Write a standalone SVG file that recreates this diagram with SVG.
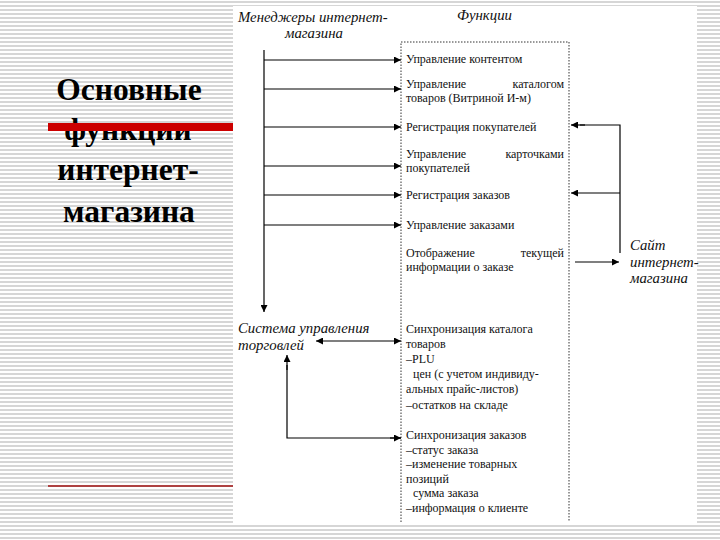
<svg xmlns="http://www.w3.org/2000/svg" width="720" height="540" viewBox="0 0 720 540">
<defs>
<pattern id="stripes" x="0" y="0" width="8" height="4" patternUnits="userSpaceOnUse">
<rect x="0" y="0" width="8" height="4" fill="#ffffff"/>
<rect x="0" y="1" width="8" height="2" fill="#d6d6d6"/>
</pattern>
<marker id="ah" viewBox="0 0 10 10" refX="10" refY="5" markerWidth="10" markerHeight="7" markerUnits="userSpaceOnUse" orient="auto-start-reverse">
<path d="M0,0 L10,5 L0,10 z" fill="#000"/>
</marker>
<style>
.title{font-family:'Liberation Serif','Times New Roman',serif;font-weight:bold;font-size:31.5px;fill:#000;text-anchor:middle}
.hdr{font-family:'Liberation Serif','Times New Roman',serif;font-style:italic;font-size:14.8px;fill:#111}
.it{font-family:'Liberation Serif','Times New Roman',serif;font-size:12px;fill:#111}
.ln{stroke:#000;stroke-width:1.2;fill:none}
.arr{stroke:#000;stroke-width:1.2;fill:none;marker-end:url(#ah)}
.dot{stroke:#333;stroke-width:1;stroke-dasharray:1.5 1.5;fill:none}
</style>
</defs>
<rect x="0" y="0" width="720" height="540" fill="url(#stripes)"/>
<rect x="233" y="6" width="464" height="518" fill="#ffffff"/>

<g id="title">
<text class="title" x="129" y="100">Основные</text>
<text class="title" x="128" y="140">функции</text>
<text class="title" x="128" y="180">интернет-</text>
<text class="title" x="129" y="222">магазина</text>
<rect x="48" y="123" width="185" height="8" fill="#cc0000"/>
<line x1="48" y1="486" x2="233" y2="486" stroke="#a01010" stroke-width="1.5"/>
</g>

<g id="managers">
<text class="hdr" x="238" y="22">Менеджеры интернет-</text>
<text class="hdr" x="285" y="38">магазина</text>
</g>

<g id="functions">
<text class="hdr" x="457" y="20">Функции</text>
<path class="dot" d="M401,522 V42 H569 V522"/>
<text class="it" x="406" y="63">Управление контентом</text>
<text class="it" x="406" y="88">Управление</text>
<text class="it" x="564" y="88" text-anchor="end">каталогом</text>
<text class="it" x="406" y="102">товаров (Витриной И-м)</text>
<text class="it" x="406" y="131">Регистрация покупателей</text>
<text class="it" x="406" y="158">Управление</text>
<text class="it" x="564" y="158" text-anchor="end">карточками</text>
<text class="it" x="406" y="172">покупателей</text>
<text class="it" x="406" y="199">Регистрация заказов</text>
<text class="it" x="406" y="229">Управление заказами</text>
<text class="it" x="406" y="257">Отображение</text>
<text class="it" x="564" y="257" text-anchor="end">текущей</text>
<text class="it" x="406" y="271">информации о заказе</text>
<text class="it" x="406" y="333">Синхронизация каталога</text>
<text class="it" x="406" y="348">товаров</text>
<text class="it" x="406" y="363">–PLU</text>
<text class="it" x="413" y="378">цен (с учетом индивиду-</text>
<text class="it" x="406" y="393">альных прайс-листов)</text>
<text class="it" x="406" y="409">–остатков на складе</text>
<text class="it" x="406" y="439">Синхронизация заказов</text>
<text class="it" x="406" y="454">–статус заказа</text>
<text class="it" x="406" y="468">–изменение товарных</text>
<text class="it" x="406" y="483">позиций</text>
<text class="it" x="413" y="497">сумма заказа</text>
<text class="it" x="406" y="512">–информация о клиенте</text>
</g>

<g id="site">
<text class="hdr" x="630" y="250">Сайт</text>
<text class="hdr" x="630" y="267">интернет-</text>
<text class="hdr" x="630" y="283">магазина</text>
</g>

<g id="trade">
<text class="hdr" x="238" y="333">Система управления</text>
<text class="hdr" x="238" y="350">торговлей</text>
</g>

<g id="connectors">
<line class="arr" x1="264" y1="50" x2="264" y2="312"/>
<line class="arr" x1="264" y1="60" x2="401" y2="60"/>
<line class="arr" x1="264" y1="89" x2="401" y2="89"/>
<line class="arr" x1="264" y1="127" x2="401" y2="127"/>
<line class="arr" x1="264" y1="166" x2="401" y2="166"/>
<line class="arr" x1="264" y1="195" x2="401" y2="195"/>
<line class="arr" x1="264" y1="225" x2="401" y2="225"/>
<path class="ln" d="M620,253 V125 H580"/>
<line class="arr" x1="585" y1="125" x2="571" y2="125"/>
<line class="arr" x1="620" y1="193" x2="571" y2="193"/>
<line class="arr" x1="575" y1="262" x2="619" y2="262"/>
<line class="arr" x1="316" y1="341" x2="401" y2="341" style="marker-start:url(#ah)"/>
<path class="ln" d="M401,438 H287 V365"/>
<line class="arr" x1="287" y1="370" x2="287" y2="355"/>
<line class="arr" x1="390" y1="438" x2="401" y2="438"/>
</g>
</svg>
